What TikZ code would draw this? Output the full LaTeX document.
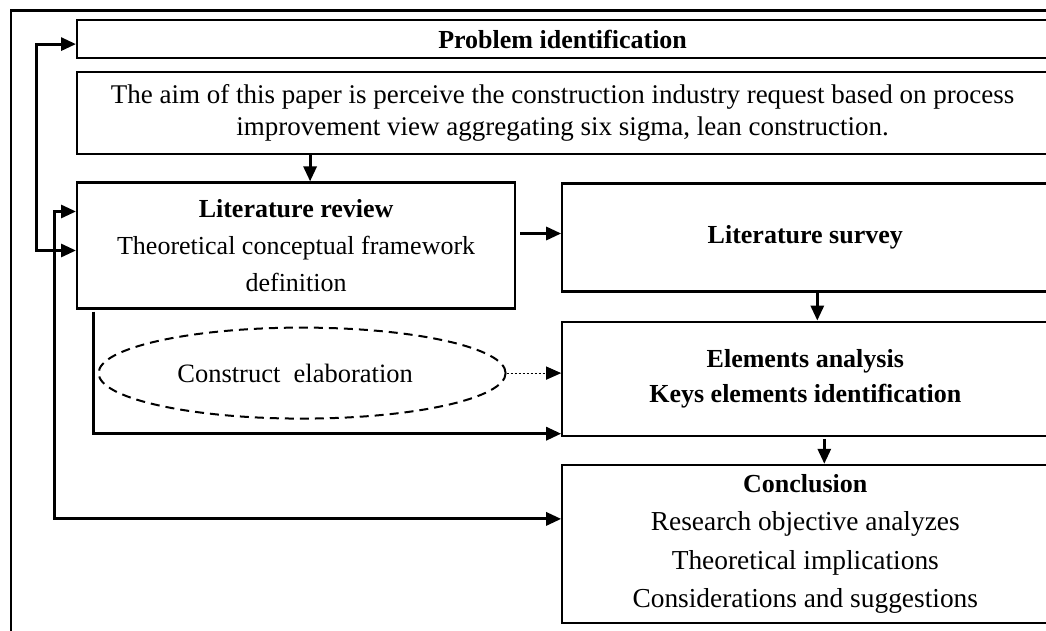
\documentclass[tikz,border=0pt]{standalone}
\usepackage{fontspec}
\setmainfont{Liberation Serif}
\usetikzlibrary{positioning,shapes.geometric,arrows.meta}

\begin{document}
\begin{tikzpicture}[x=1pt, y=-1pt, node distance=26pt,
    box/.style={draw, rectangle, line width=2.2pt, inner sep=0pt, align=center,
                font=\fontsize{26}{37}\selectfont},
    arr/.style={line width=3pt, -{Triangle[length=15pt,width=13pt]}},
    twoarr/.style={line width=3pt,
                   {Triangle[length=15pt,width=13pt]}-{Triangle[length=15pt,width=13pt]}},
    dotarr/.style={line width=1.2pt, dash pattern=on 2.5pt off 1.5pt,
                   -{Triangle[length=15pt,width=13pt]}}]

  \useasboundingbox (0,0) rectangle (1046,631);
  \clip (0,0) rectangle (1046,631);
  \draw[line width=2.2pt] (11,10.5) rectangle (1080,660);

  \node (problem)    [box, minimum width=971pt, minimum height=38pt, anchor=north west]
                     at (76,19) {\textbf{Problem identification}};
  \node (aim)        [box, minimum width=971pt, minimum height=82pt, below=12pt of problem,
                     font=\fontsize{27}{32}\selectfont]
                     {The aim of this paper is perceive the construction industry request based on process\\
                      improvement view aggregating six sigma, lean construction.};
  \node (review)     [box, minimum width=438pt, minimum height=126pt,
                     below=26pt of aim.south west, anchor=north west]
                     {\textbf{Literature review}\\Theoretical conceptual framework\\definition};
  \node (survey)     [box, minimum width=486pt, minimum height=108pt,
                     right=45pt of review.north east, anchor=north west, yshift=-1pt]
                     {\textbf{Literature survey}};
  \node (elements)   [box, minimum width=486pt, minimum height=114pt, below=28pt of survey,
                     font=\fontsize{26}{35}\selectfont]
                     {\textbf{Elements analysis}\\\textbf{Keys elements identification}};
  \node (conclusion) [box, minimum width=486pt, minimum height=158pt, below=27pt of elements,
                     font=\fontsize{27.4}{38.5}\selectfont]
                     {\fontsize{26}{38.5}\selectfont\textbf{Conclusion}\\Research objective analyzes\\
                      Theoretical implications\\Considerations and suggestions};

  \node (construct)  [draw, ellipse, line width=2pt, dash pattern=on 9pt off 6pt,
                     minimum width=407pt, minimum height=91pt, inner sep=0pt,
                     below=17pt of review.south, xshift=6pt,
                     font=\fontsize{26.5}{30}\selectfont]
                     {Construct\ \ elaboration\hspace*{14pt}};

  \draw[arr] ([xshift=14pt]review.north |- aim.south) -- ([xshift=14pt]review.north);
  \draw[arr] ([xshift=4pt,yshift=4pt]review.east |- survey.west) -- ([yshift=4pt]survey.west);
  \draw[arr] ([xshift=12pt]survey.south) -- ([xshift=12pt]survey.south |- elements.north);
  \draw[arr] ([xshift=19pt,yshift=-2pt]elements.south) -- ([xshift=19pt]elements.south |- conclusion.north);

  \draw[twoarr] ([yshift=-5pt]problem.west) -- ++(-40,0) |- ([yshift=-5pt]review.west);
  \draw[twoarr] ([yshift=34pt]review.west) -- ++(-22,0) |- ([yshift=25pt]conclusion.west);
  \draw[arr] ([xshift=17pt,yshift=-2pt]review.south west) |- ([yshift=-55pt]elements.west);
  \draw[dotarr] (construct.east) -- (construct.east -| elements.west);
\end{tikzpicture}
\end{document}
